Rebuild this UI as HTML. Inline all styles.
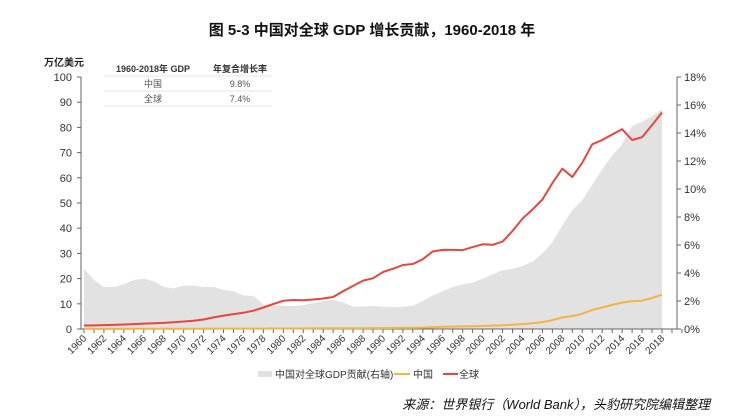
<!DOCTYPE html>
<html><head><meta charset="utf-8">
<style>
html,body{margin:0;padding:0;background:#fff;}
body{width:743px;height:415px;overflow:hidden;font-family:"Liberation Sans","Noto Sans CJK SC",sans-serif;}
svg text{font-family:"Liberation Sans","Noto Sans CJK SC",sans-serif;}
</style></head><body>
<svg id="chart" width="743" height="415" viewBox="0 0 743 415">
<text x="372" y="35" text-anchor="middle" font-size="15" font-weight="bold" fill="#111">图  5-3  中国对全球 GDP 增长贡献，1960-2018 年</text>
<text x="44" y="66" font-size="10" font-weight="bold" fill="#222">万亿美元</text>
<g id="plot"></g>
<g>
<text x="153" y="72" text-anchor="middle" font-size="9" font-weight="bold" fill="#333">1960-2018年 GDP</text>
<text x="240" y="72" text-anchor="middle" font-size="9" font-weight="bold" fill="#333">年复合增长率</text>
<line x1="104" y1="76" x2="272" y2="76" stroke="#e4e4e4"/>
<text x="153" y="87" text-anchor="middle" font-size="9" fill="#555">中国</text>
<text x="240" y="87" text-anchor="middle" font-size="9" fill="#555">9.8%</text>
<line x1="104" y1="91" x2="272" y2="91" stroke="#e4e4e4"/>
<text x="153" y="102" text-anchor="middle" font-size="9" fill="#555">全球</text>
<text x="240" y="102" text-anchor="middle" font-size="9" fill="#555">7.4%</text>
<line x1="104" y1="106" x2="272" y2="106" stroke="#e4e4e4"/>
</g>
<g>
<rect x="258" y="371" width="14" height="6" fill="#e0e0e0"/>
<text x="275" y="378" font-size="10" fill="#333">中国对全球GDP贡献(右轴)</text>
<line x1="394" y1="374" x2="410" y2="374" stroke="#f5b342" stroke-width="2"/>
<text x="413" y="378" font-size="10" fill="#333">中国</text>
<line x1="443" y1="374" x2="458" y2="374" stroke="#e8453c" stroke-width="2"/>
<text x="459" y="378" font-size="10" fill="#333">全球</text>
</g>
<text x="710" y="409" text-anchor="end" font-size="13" font-style="italic" fill="#111">来源：世界银行（World Bank），头豹研究院编辑整理</text>
</svg>
<script>
const years=[];for(let y=1960;y<=2018;y++)years.push(y);
const worldGdp=[1.37,1.42,1.53,1.64,1.80,1.96,2.13,2.26,2.44,2.69,2.96,3.26,3.77,4.59,5.30,5.90,6.42,7.26,8.54,9.93,11.2,11.5,11.4,11.7,12.1,12.7,15.0,17.1,19.2,20.1,22.6,23.9,25.4,25.8,27.7,30.8,31.4,31.4,31.3,32.5,33.6,33.4,34.7,38.9,43.8,47.4,51.4,57.9,63.6,60.3,66.0,73.3,75.0,77.2,79.3,75.0,76.1,80.9,85.9];
const chinaGdp=[0.06,0.05,0.047,0.05,0.059,0.07,0.076,0.072,0.07,0.079,0.093,0.1,0.11,0.14,0.14,0.16,0.15,0.17,0.15,0.18,0.19,0.2,0.2,0.23,0.26,0.31,0.3,0.27,0.31,0.35,0.36,0.38,0.43,0.44,0.56,0.73,0.86,0.96,1.03,1.09,1.21,1.34,1.47,1.66,1.96,2.29,2.75,3.55,4.59,5.10,6.09,7.55,8.53,9.57,10.48,11.06,11.23,12.31,13.6];
const sharePct=[4.3,3.5,3.0,3.0,3.2,3.5,3.6,3.4,3.0,2.9,3.1,3.1,3.0,3.0,2.8,2.7,2.4,2.35,1.75,1.7,1.65,1.65,1.7,1.85,2.0,2.1,1.9,1.6,1.6,1.65,1.6,1.55,1.6,1.65,2.0,2.4,2.7,3.0,3.2,3.3,3.6,3.9,4.2,4.3,4.5,4.8,5.4,6.2,7.4,8.5,9.2,10.3,11.4,12.4,13.2,14.5,14.8,15.2,15.7];
const leftTicks=[0,10,20,30,40,50,60,70,80,90,100];
const rightTicks=[0,2,4,6,8,10,12,14,16,18];
const X0=84,X1=662,Y0=329,Y1=77,LX=81,RX=677;
const xs=y=>X0+(y-1960)*(X1-X0)/58;
const yl=v=>Y0-v*(Y0-Y1)/100;
const yr=v=>Y0-v*(Y0-Y1)/18;
const NS='http://www.w3.org/2000/svg';
const g=document.getElementById('plot');
function mk(t,a,p){const e=document.createElementNS(NS,t);for(const k in a)e.setAttribute(k,a[k]);(p||g).appendChild(e);return e;}
// area
let d='M'+xs(1960)+','+Y0;
years.forEach((y,i)=>{d+=' L'+xs(y).toFixed(1)+','+yr(sharePct[i]).toFixed(1);});
d+=' L'+xs(2018)+','+Y0+' Z';
const area=mk('path',{d:d,fill:'#e2e2e2'});


// axes
const ax=mk('line',{x1:LX,y1:Y1,x2:LX,y2:Y0,stroke:'#666','stroke-width':1});


const ax2=mk('line',{x1:RX,y1:Y1,x2:RX,y2:Y0,stroke:'#666','stroke-width':1});


const ax3=mk('line',{x1:LX,y1:Y0,x2:RX,y2:Y0,stroke:'#666','stroke-width':1});


leftTicks.forEach(v=>{
 mk('line',{x1:LX-4,y1:yl(v),x2:LX,y2:yl(v),stroke:'#666'});
 const t=mk('text',{x:LX-9,y:yl(v)+4,'text-anchor':'end','font-size':11,fill:'#333'});t.textContent=v;
 
 
});
rightTicks.forEach(v=>{
 mk('line',{x1:RX,y1:yr(v),x2:RX+4,y2:yr(v),stroke:'#666'});
 const t=mk('text',{x:RX+7,y:yr(v)+4,'font-size':11,fill:'#333'});t.textContent=v+'%';
 
 
});
years.concat([2019,2020]).forEach(y=>{
 mk('line',{x1:xs(y),y1:Y0,x2:xs(y),y2:Y0+4,stroke:'#666'});
});
years.forEach(y=>{
 if(y%2)return;
 const t=mk('text',{x:xs(y)+3,y:Y0+10,'text-anchor':'end','font-size':10,fill:'#333',transform:'rotate(-45 '+(xs(y)+3)+' '+(Y0+10)+')'});
 t.textContent=y;
 
 
});
function line(arr,col,name){
 const p=mk('polyline',{points:years.map((y,i)=>xs(y).toFixed(1)+','+yl(arr[i]).toFixed(1)).join(' '),fill:'none',stroke:col,'stroke-width':2,'stroke-linejoin':'round'});
 
 
}
line(chinaGdp,'#f5b342','china-gdp-line');
line(worldGdp,'#e8453c','world-gdp-line');
</script>
</body></html>
